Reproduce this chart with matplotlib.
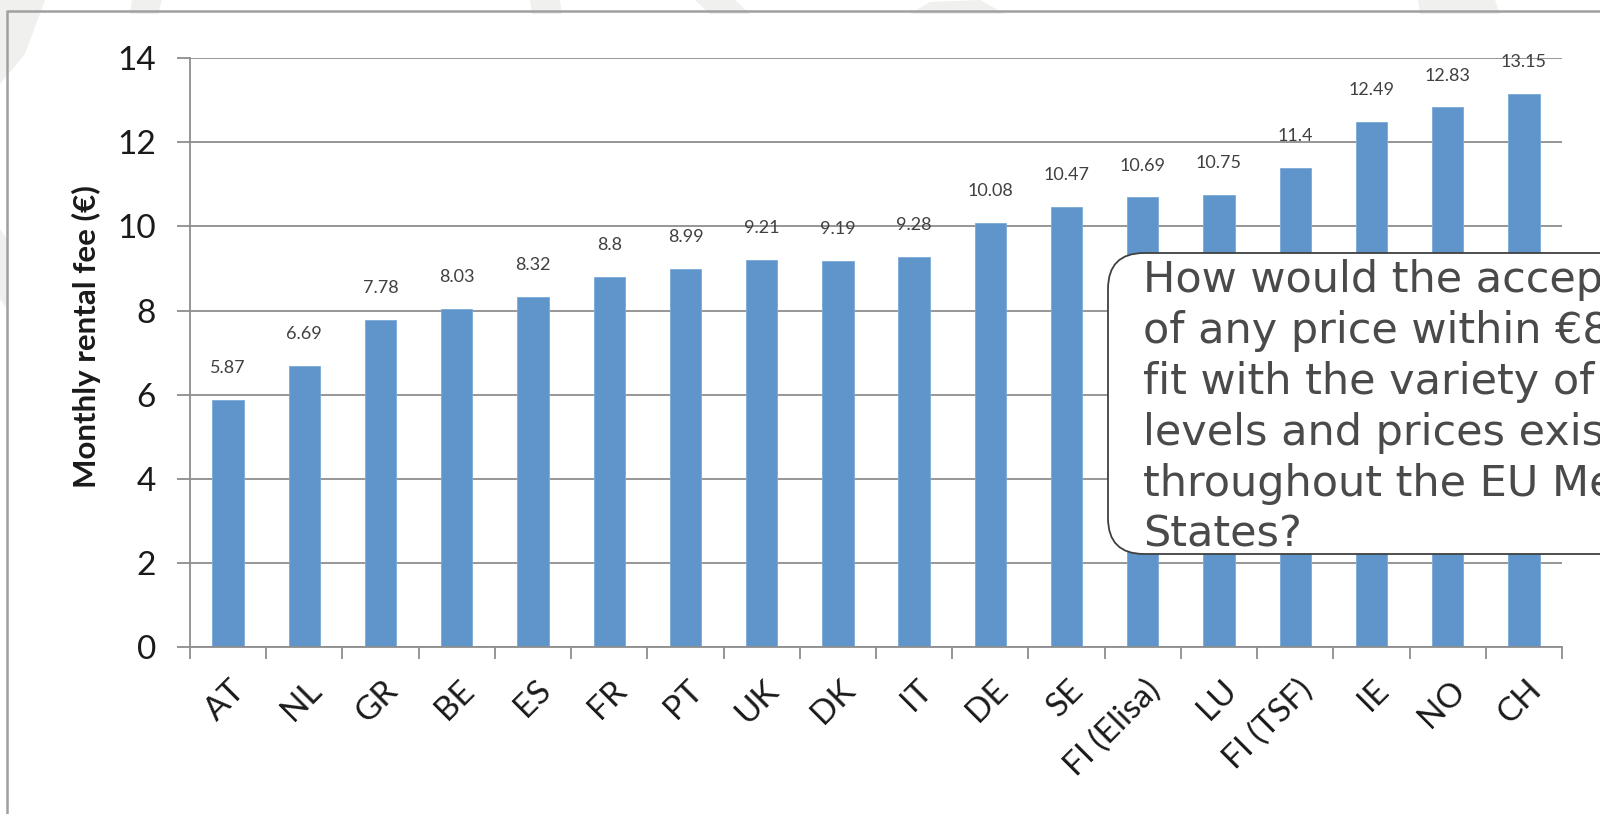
import matplotlib
matplotlib.use("Agg")
import matplotlib.pyplot as plt
import numpy as np
from matplotlib.patches import FancyBboxPatch, Polygon
from matplotlib.lines import Line2D
from matplotlib.transforms import ScaledTranslation

plt.rcParams['font.family'] = ['Lato', 'DejaVu Sans']

countries = ["AT", "NL", "GR", "BE", "ES", "FR", "PT", "UK", "DK", "IT",
             "DE", "SE", "FI (Elisa)", "LU", "FI (TSF)", "IE", "NO", "CH"]
fees = [5.87, 6.69, 7.78, 8.03, 8.32, 8.8, 8.99, 9.21, 9.19, 9.28,
        10.08, 10.47, 10.69, 10.75, 11.4, 12.49, 12.83, 13.15]
y_ticks = [0, 2, 4, 6, 8, 10, 12, 14]

question = ["How would the acceptance",
            "of any price within \u20ac8",
            "fit with the variety of",
            "levels and prices existing",
            "throughout the EU Member",
            "States?"]

BAR = "#5f95ca"
GRID = "#8e8e8e"

fig = plt.figure(figsize=(16, 8.14), dpi=100)
inch = fig.dpi_scale_trans

# faint slide background shapes behind the frame
shade = "#f0f0ee"
for pts in [
    [(0.0, 8.14), (0.45, 8.14), (0.25, 7.6), (0.0, 7.3)],
    [(1.32, 8.14), (1.62, 8.14), (1.58, 8.0), (1.30, 8.0)],
    [(5.30, 8.14), (5.60, 8.14), (5.62, 8.0), (5.32, 8.0)],
    [(6.95, 8.14), (7.35, 8.14), (7.50, 8.0), (7.10, 8.0)],
    [(9.10, 8.0), (9.30, 8.12), (9.80, 8.14), (10.05, 8.0)],
    [(14.18, 8.14), (14.95, 8.14), (15.0, 8.0), (14.2, 8.0)],
    [(0.0, 5.85), (0.07, 5.75), (0.07, 5.05), (0.0, 5.15)],
]:
    fig.add_artist(Polygon(pts, closed=True, transform=inch,
                           facecolor=shade, edgecolor="none", zorder=0))

# outer frame (only left and top edges fall inside the image)
fig.add_artist(Line2D([0.07, 0.07, 16.2], [-0.1, 8.03, 8.03], transform=inch,
                      color="#a0a0a0", lw=1.8, zorder=1))

ax = fig.add_axes([0.11875, 0.2052, 0.8575, 0.7232])
ax.set_facecolor("none")
x = np.arange(len(countries))
bars = ax.bar(x, fees, width=0.41, color=BAR, edgecolor="#7aaad8",
              linewidth=0.6, zorder=2)

for xi, v in zip(x, fees):
    ax.annotate(f"{v:g}", (xi, v), xytext=(0, 23), textcoords="offset points",
                ha="center", va="center", fontsize=13, color="#404040")

ax.set_xlim(-0.5, len(countries) - 0.5)
ax.set_ylim(0, 14)
ax.set_yticks(y_ticks)
ax.yaxis.grid(True, color=GRID, lw=1.3)
ax.set_axisbelow(True)
for side in ("top", "right"):
    ax.spines[side].set_visible(False)
for side in ("left", "bottom"):
    ax.spines[side].set_color(GRID)
    ax.spines[side].set_linewidth(1.3)

ax.tick_params(axis="y", length=9.4, width=1.3, color=GRID, pad=15,
               labelsize=24, labelcolor="#1a1a1a")
ax.set_xticks(x)
ax.set_xticks(np.arange(-0.5, len(countries)), minor=True)
ax.tick_params(axis="x", which="major", length=0, pad=20)
ax.tick_params(axis="x", which="minor", length=8.4, width=1.3, color=GRID)
ax.set_xticklabels(countries, rotation=45, ha="right", va="top",
                   rotation_mode="anchor", fontsize=24, color="#1a1a1a")
shift = ScaledTranslation(0.02, 0, inch)
for lab in ax.get_xticklabels():
    lab.set_transform(lab.get_transform() + shift)

ax.text(-0.0758, 0.527, "Monthly rental fee (\u20ac)", transform=ax.transAxes,
        rotation=90, ha="center", va="center", fontsize=22.5,
        fontweight="bold", color="#1a1a1a")

# question callout sitting over the right half of the chart
box = FancyBboxPatch((11.08, 2.60), 6.0, 3.01,
                     boxstyle="round,pad=0,rounding_size=0.36",
                     transform=inch, facecolor="white", edgecolor="#404040",
                     lw=1.3, zorder=5)
fig.add_artist(box)
for i, line in enumerate(question):
    fig.text(11.43, 5.223 - 0.51 * i, line, transform=inch,
             ha="left", va="baseline", fontsize=31, color="#4a4a4a",
             family="DejaVu Sans", zorder=6)

fig.savefig("out.png", dpi=100)
